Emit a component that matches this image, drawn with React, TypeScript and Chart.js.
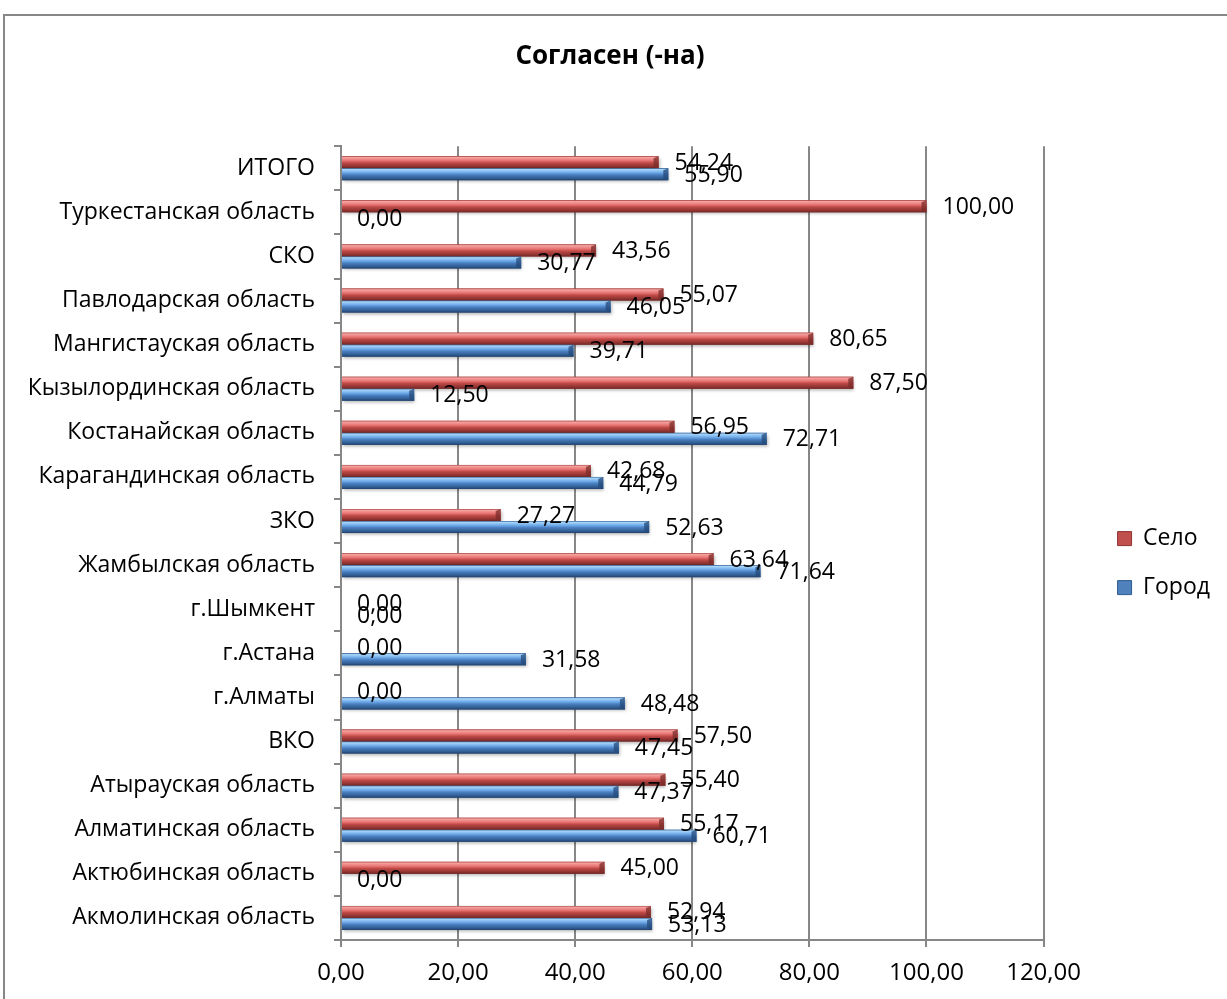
import React, { useEffect, useRef } from "react";
import { Chart, registerables } from "chart.js";

Chart.register(...registerables);

const chartTitle = "Согласен (-на)";
const categories = [
  "ИТОГО",
  "Туркестанская область",
  "СКО",
  "Павлодарская область",
  "Мангистауская область",
  "Кызылординская область",
  "Костанайская область",
  "Карагандинская область",
  "ЗКО",
  "Жамбылская область",
  "г.Шымкент",
  "г.Астана",
  "г.Алматы",
  "ВКО",
  "Атырауская область",
  "Алматинская область",
  "Актюбинская область",
  "Акмолинская область",
];
const seriesNames = ["Село", "Город"];
const seloValues = [54.24, 100.0, 43.56, 55.07, 80.65, 87.5, 56.95, 42.68, 27.27, 63.64, 0.0, 0.0, 0.0, 57.5, 55.4, 55.17, 45.0, 52.94];
const gorodValues = [55.9, 0.0, 30.77, 46.05, 39.71, 12.5, 72.71, 44.79, 52.63, 71.64, 0.0, 31.58, 48.48, 47.45, 47.37, 60.71, 0.0, 53.13];
const xMin = 0;
const xMax = 120;
const xStep = 20;

const FONT = "'Open Sans', 'DejaVu Sans', sans-serif";
const GRID = "#878787";

const fmt = (v: number) => v.toFixed(2).replace(".", ",");

const palettes = [
  {
    base: "#c0504d",
    edge: "#8f3331",
    stops: [
      [0, "#a6403e"],
      [0.1, "#f6a4a2"],
      [0.38, "#e5716f"],
      [0.55, "#bf4a47"],
      [0.85, "#8f3331"],
      [1, "#6b2624"],
    ],
    cap: "#7a2c2a",
  },
  {
    base: "#4f81bd",
    edge: "#2f5b90",
    stops: [
      [0, "#2f5b8f"],
      [0.1, "#a9d6fa"],
      [0.38, "#6aa6e6"],
      [0.55, "#4a7fc0"],
      [0.85, "#2f5b90"],
      [1, "#1f3f68"],
    ],
    cap: "#24497a",
  },
];

const barStylePlugin = {
  id: "barStyle",
  afterDatasetsDraw(chart: any) {
    const ctx = chart.ctx;
    chart.data.datasets.forEach((_ds: any, di: number) => {
      const meta = chart.getDatasetMeta(di);
      const pal = palettes[di];
      meta.data.forEach((el: any) => {
        const { x, y, base, height } = el.getProps(["x", "y", "base", "height"], true);
        const w = x - base;
        if (w < 1) return;
        const top = y - height / 2;
        ctx.save();
        ctx.shadowColor = "rgba(0,0,0,0.28)";
        ctx.shadowOffsetY = 2;
        ctx.shadowOffsetX = 1;
        ctx.shadowBlur = 3;
        const g = ctx.createLinearGradient(0, top, 0, top + height);
        pal.stops.forEach(([o, c]: any) => g.addColorStop(o, c));
        ctx.fillStyle = g;
        ctx.fillRect(base, top, w, height);
        ctx.restore();
        const c = Math.min(5, w / 2);
        ctx.save();
        ctx.fillStyle = pal.cap;
        ctx.globalAlpha = 0.75;
        ctx.beginPath();
        ctx.moveTo(x - c, top + 2);
        ctx.lineTo(x, top);
        ctx.lineTo(x, top + height);
        ctx.lineTo(x - c, top + height - 2);
        ctx.closePath();
        ctx.fill();
        ctx.restore();
      });
    });
    ctx.save();
    ctx.font = `23px ${FONT}`;
    ctx.fillStyle = "#000";
    ctx.textAlign = "left";
    ctx.textBaseline = "middle";
    chart.data.datasets.forEach((ds: any, di: number) => {
      const meta = chart.getDatasetMeta(di);
      meta.data.forEach((el: any, i: number) => {
        const { x, y } = el.getProps(["x", "y"], true);
        ctx.fillText(fmt(ds.data[i]), x + 16, y + 1);
      });
    });
    ctx.restore();
  },
};

export default function App() {
  const ref = useRef<HTMLCanvasElement | null>(null);
  useEffect(() => {
    if (!ref.current) return;
    const chart = new Chart(ref.current, {
      type: "bar",
      data: {
        labels: categories,
        datasets: [
          {
            label: seriesNames[0],
            data: seloValues,
            backgroundColor: palettes[0].base,
            borderColor: palettes[0].edge,
            borderWidth: 0,
            categoryPercentage: 0.545,
            barPercentage: 1,
          },
          {
            label: seriesNames[1],
            data: gorodValues,
            backgroundColor: palettes[1].base,
            borderColor: palettes[1].edge,
            borderWidth: 0,
            categoryPercentage: 0.545,
            barPercentage: 1,
          },
        ],
      },
      options: {
        indexAxis: "y",
        animation: false,
        responsive: false,
        maintainAspectRatio: false,
        layout: { padding: { left: 0, right: 7, top: 0, bottom: 0 } },
        plugins: {
          title: {
            display: true,
            text: chartTitle,
            color: "#000",
            font: { family: FONT, size: 26, weight: "bold" },
            padding: { top: 41, bottom: 74 },
          },
          legend: {
            display: true,
            position: "right",
            fullSize: false,
            title: { display: true, text: " ", font: { size: 10 }, padding: { top: 0, bottom: 28 } },
            labels: {
              color: "#000",
              font: { family: FONT, size: 23 },
              boxWidth: 14,
              boxHeight: 14,
              padding: 26,
              generateLabels: (chart: any) =>
                chart.data.datasets.map((ds: any, i: number) => ({
                  text: ds.label,
                  fillStyle: palettes[i].base,
                  strokeStyle: palettes[i].edge,
                  lineWidth: 1,
                  hidden: false,
                  datasetIndex: i,
                  fontColor: "#000",
                })),
            },
          },
          tooltip: { enabled: false },
        },
        scales: {
          x: {
            type: "linear",
            min: xMin,
            max: xMax,
            ticks: {
              stepSize: xStep,
              color: "#000",
              font: { family: FONT, size: 24 },
              padding: 12,
              callback: (v: any) => fmt(Number(v)),
            },
            grid: { color: GRID, lineWidth: 2, tickLength: 7, drawTicks: true },
            border: { color: GRID, width: 2 },
            afterFit: (s: any) => {
              s.height = 59;
            },
          },
          y: {
            type: "category",
            ticks: {
              color: "#000",
              font: { family: FONT, size: 23 },
              padding: 19,
              autoSkip: false,
            },
            grid: { drawOnChartArea: false, drawTicks: true, tickLength: 7, offset: true, color: GRID, lineWidth: 2 },
            border: { color: GRID, width: 2 },
            afterFit: (s: any) => {
              s.width = 341;
            },
          },
          yr: {
            type: "category",
            position: "right",
            display: true,
            ticks: { display: false },
            grid: { display: false, drawTicks: false },
            border: { display: false },
            afterFit: (s: any) => {
              s.width = 48;
            },
          },
        },
      },
      plugins: [barStylePlugin],
    });
    return () => chart.destroy();
  }, []);

  return (
    <div style={{ position: "fixed", left: 0, top: 0, width: 1227, height: 999, background: "#fff", overflow: "hidden" }}>
      <div
        style={{
          position: "absolute",
          left: 3,
          top: 14,
          width: 1260,
          height: 1020,
          border: "2px solid #878787",
          boxSizing: "border-box",
        }}
      />
      <canvas ref={ref} width={1227} height={999} style={{ position: "absolute", left: 0, top: 0, display: "block" }} />
    </div>
  );
}
